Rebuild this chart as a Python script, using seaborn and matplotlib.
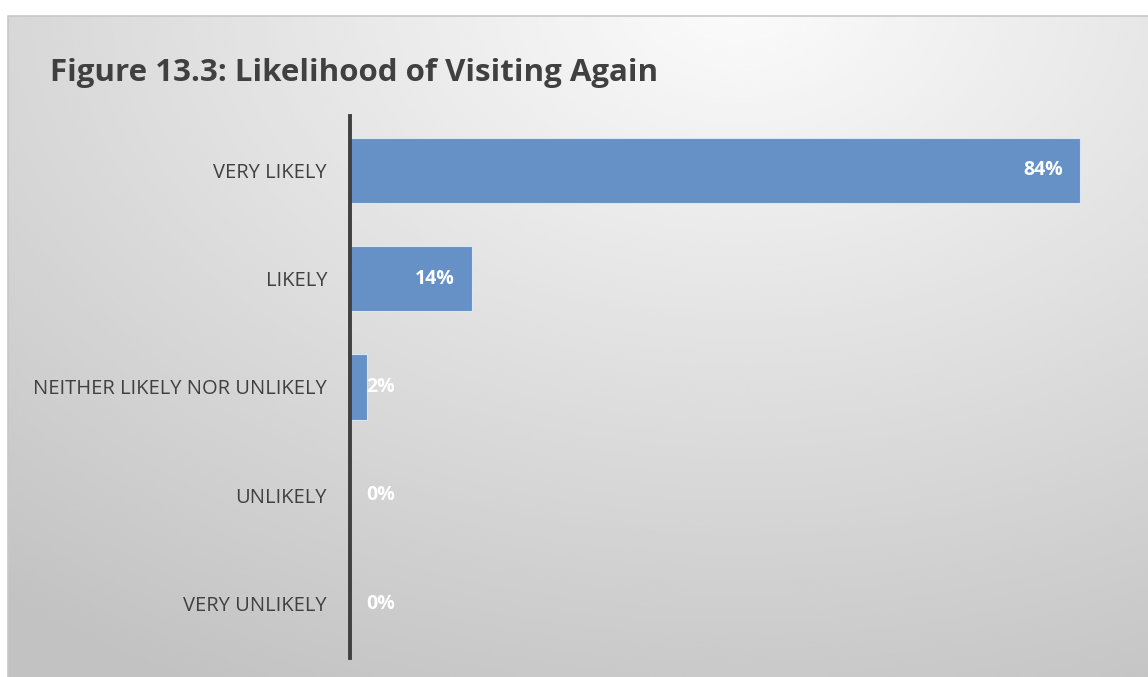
import numpy as np
import pandas as pd
import matplotlib
matplotlib.use("Agg")
import matplotlib.pyplot as plt
import seaborn as sns

categories = ["VERY LIKELY", "LIKELY", "NEITHER LIKELY NOR UNLIKELY", "UNLIKELY", "VERY UNLIKELY"]
shares = [0.84, 0.14, 0.02, 0.00, 0.00]
value_labels = ["84%", "14%", "2%", "0%", "0%"]
title = "Figure 13.3: Likelihood of Visiting Again"

sns.set_theme(style="white")
plt.rcParams["font.family"] = ["Open Sans", "DejaVu Sans"]

W, H = 1148, 677
fig = plt.figure(figsize=(W / 100, H / 100), dpi=100, facecolor="white")

# soft radial gray background panel
bg = fig.add_axes([8 / W, 0, 1 - 8 / W, (H - 16) / H])
bg.set_axis_off()
ny, nx = 300, 500
yy, xx = np.mgrid[0:1:ny * 1j, 0:1:nx * 1j]
d = np.sqrt(((xx - 0.64) / 1.0) ** 2 + ((yy - 1.02) / 1.15) ** 2)
shade = np.clip(0.985 - 0.22 * d, 0.76, 1.0)
bg.imshow(shade, cmap="gray", vmin=0, vmax=1, origin="lower",
          extent=[0, 1, 0, 1], aspect="auto", interpolation="bicubic")
bg.set_xlim(0, 1)
bg.set_ylim(0, 1)
bg.plot([0, 0, 1], [0, 1, 1], color="#c8c8c8", lw=1.2, transform=bg.transAxes, clip_on=False)

fig.text(50 / W, 1 - 73 / H, title, fontsize=22.5, fontweight="bold", color="#404040",
         va="center", ha="left")

df = pd.DataFrame({"category": categories, "share": shares})
ax = fig.add_axes([350 / W, 19 / H, (1132 - 350) / W, (658 - 116) / H])
ax.patch.set_alpha(0)
sns.barplot(data=df, x="share", y="category", orient="h", color="#6591c6",
            saturation=1, width=0.6, edgecolor="#dce6f2", linewidth=0.8, ax=ax)
ax.set_xlim(0, 0.9)
ax.set_ylim(len(categories) - 0.5, -0.5)
ax.set_xlabel("")
ax.set_ylabel("")
ax.set_xticks([])
for s in ["top", "right", "bottom"]:
    ax.spines[s].set_visible(False)
ax.spines["left"].set_color("#404040")
ax.spines["left"].set_linewidth(2.8)
ax.tick_params(axis="y", length=0, pad=16.5, labelsize=14.5, labelcolor="#404040")

# value labels at the inner end of each bar, kept clear of the axis line
px_per_unit = (1132 - 350) / 0.9
for i, (v, lab) in enumerate(zip(shares, value_labels)):
    right_px = max(v * px_per_unit - 17, 45)
    ax.annotate(lab, xy=(0, i), xytext=(right_px * 0.72, 0), textcoords="offset points",
                ha="right", va="center", color="white", fontsize=14, fontweight="bold")

fig.savefig("out.png", dpi=100, facecolor="white")
